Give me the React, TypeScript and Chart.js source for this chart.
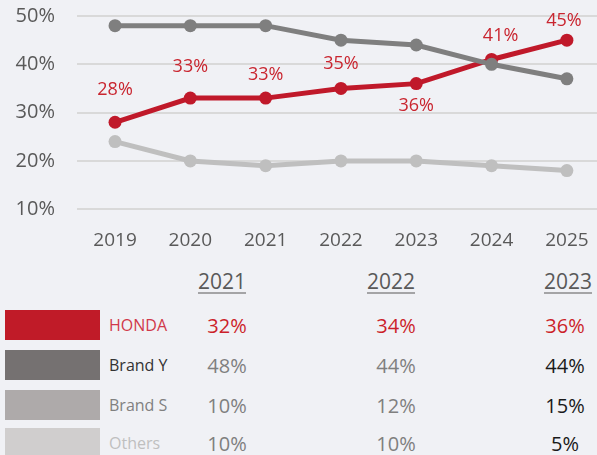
import React, { useEffect, useRef } from "react";
import { Chart, registerables } from "chart.js";

Chart.register(...registerables);

const years = [2019, 2020, 2021, 2022, 2023, 2024, 2025];
const hondaShare = [28, 33, 33, 35, 36, 41, 45];
const brandYShare = [48, 48, 48, 45, 44, 40, 37];
const othersShare = [24, 20, 19, 20, 20, 19, 18];
const yTicks = [10, 20, 30, 40, 50];

const tableYears = ["2021", "2022", "2023"];
const tableBrands = ["HONDA", "Brand Y", "Brand S", "Others"];
const tableHonda = [32, 34, 36];
const tableBrandY = [48, 44, 44];
const tableBrandS = [10, 12, 15];
const tableOthers = [10, 10, 5];

const FONT = "'Open Sans', 'Noto Sans', sans-serif";
const RED = "#c0192a";
const DARK = "#7f7f7f";
const LIGHT = "#bfbfbf";
const AXIS_TEXT = "#595959";

const labelPlugin = {
  id: "hondaLabels",
  afterDatasetsDraw(chart: any) {
    const meta = chart.getDatasetMeta(0);
    const offsets = [
      [0, -32],
      [0, -31],
      [0, -23],
      [0, -25],
      [0, 22],
      [9, -24],
      [-3, -19],
    ];
    const ctx = chart.ctx;
    ctx.save();
    ctx.font = `18px ${FONT}`;
    ctx.fillStyle = "#c9252f";
    ctx.textAlign = "center";
    ctx.textBaseline = "middle";
    meta.data.forEach((pt: any, i: number) => {
      const o = offsets[i] || [0, -25];
      ctx.fillText(hondaShare[i] + "%", pt.x + o[0], pt.y + o[1]);
    });
    ctx.restore();
  },
};

const colX = [227, 396, 565];
const headX = [222, 391, 568];
const rowY = [325, 365, 405, 443];
const swatch = ["#c01b28", "#757171", "#aeaaaa", "#d0cece"];
const brandColors = ["#d0394a", "#333333", "#808080", "#bfbfbf"];

export default function App() {
  const ref = useRef<HTMLCanvasElement | null>(null);

  useEffect(() => {
    document.body.style.margin = "0";
    if (!ref.current) return;
    const toPts = (arr: number[]) => years.map((y, i) => ({ x: y, y: arr[i] }));
    const chart = new Chart(ref.current, {
      type: "line",
      data: {
        datasets: [
          {
            label: "HONDA",
            data: toPts(hondaShare),
            borderColor: RED,
            backgroundColor: RED,
            borderWidth: 5,
            pointRadius: 6.5,
            pointBorderWidth: 0,
            order: 1,
          },
          {
            label: "Brand Y",
            data: toPts(brandYShare),
            borderColor: DARK,
            backgroundColor: DARK,
            borderWidth: 5,
            pointRadius: 6.5,
            pointBorderWidth: 0,
            order: 0,
          },
          {
            label: "Others",
            data: toPts(othersShare),
            borderColor: LIGHT,
            backgroundColor: LIGHT,
            borderWidth: 5,
            pointRadius: 6.5,
            pointBorderWidth: 0,
            order: 2,
          },
        ],
      } as any,
      options: {
        responsive: false,
        animation: false,
        layout: { autoPadding: false, padding: { top: 16, left: 0, right: 0, bottom: 0 } },
        plugins: { legend: { display: false }, tooltip: { enabled: false } },
        scales: {
          x: {
            type: "linear",
            min: 2018.495,
            max: 2025.4,
            grid: {
              display: true,
              drawOnChartArea: false,
              drawTicks: true,
              tickLength: 20,
              tickColor: "rgba(0,0,0,0)",
            },
            border: { display: false },
            afterBuildTicks: (s: any) => {
              s.ticks = years.map((v) => ({ value: v }));
            },
            afterFit: (s: any) => {
              s.paddingLeft = 0;
              s.paddingRight = 0;
            },
            ticks: {
              callback: (v: any) => String(v),
              color: AXIS_TEXT,
              font: { family: FONT, size: 19 },
              padding: 0,
              maxRotation: 0,
              autoSkip: false,
            },
          },
          y: {
            min: 10,
            max: 50,
            grid: {
              color: "#d9d9d9",
              lineWidth: 2,
              drawTicks: true,
              tickLength: 22,
              tickColor: "rgba(0,0,0,0)",
            },
            border: { display: false },
            afterBuildTicks: (s: any) => {
              s.ticks = yTicks.map((v) => ({ value: v }));
            },
            afterFit: (s: any) => {
              s.width = 77;
              s.paddingTop = 0;
              s.paddingBottom = 0;
            },
            ticks: {
              callback: (v: any) => v + "%",
              color: AXIS_TEXT,
              font: { family: FONT, size: 20 },
              padding: 0,
            },
          },
        },
      } as any,
      plugins: [labelPlugin],
    });
    return () => chart.destroy();
  }, []);

  const rows = [tableHonda, tableBrandY, tableBrandS, tableOthers];
  const valueColor = (r: number, c: number) => {
    if (r === 0) return "#cc1f2a";
    if (c === 2) return "#1a1a1a";
    return "#7f7f7f";
  };

  const center = (x: number, y: number): React.CSSProperties => ({
    position: "absolute",
    left: x,
    top: y,
    transform: "translate(-50%, -50%)",
    whiteSpace: "nowrap",
    lineHeight: 1,
  });

  return (
    <div
      style={{
        position: "relative",
        width: 597,
        height: 455,
        background: "#f0f1f5",
        overflow: "hidden",
        fontFamily: FONT,
      }}
    >
      <canvas
        ref={ref}
        width={597}
        height={252}
        style={{ position: "absolute", left: 0, top: 0, width: 597, height: 252 }}
      />
      {tableYears.map((y, c) => (
        <div
          key={"h" + y}
          style={{
            ...center(headX[c], 281),
            fontSize: 21,
            color: AXIS_TEXT,
            textDecoration: "underline",
            textUnderlineOffset: 4,
            textDecorationThickness: 1,
          }}
        >
          {y}
        </div>
      ))}
      {tableBrands.map((b, r) => (
        <React.Fragment key={b}>
          <div
            style={{
              position: "absolute",
              left: 5,
              top: rowY[r] - 15,
              width: 95,
              height: 30,
              background: swatch[r],
            }}
          />
          <div
            style={{
              position: "absolute",
              left: 109,
              top: rowY[r],
              transform: "translate(0, -50%)",
              whiteSpace: "nowrap",
              lineHeight: 1,
              fontSize: 16,
              color: brandColors[r],
            }}
          >
            {b}
          </div>
          {rows[r].map((v, c) => (
            <div
              key={b + c}
              style={{ ...center(colX[c], rowY[r] + 1), fontSize: 20, color: valueColor(r, c) }}
            >
              {v}%
            </div>
          ))}
        </React.Fragment>
      ))}
    </div>
  );
}
